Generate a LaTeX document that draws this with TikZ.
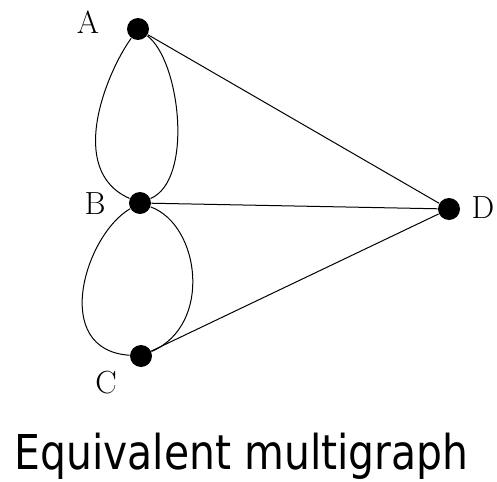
\documentclass[tikz,border=0pt]{standalone}
\usepackage{fontspec}
\newfontfamily\capfont{DejaVu Sans}
\tikzset{every picture/.style={line width=0.75pt}}
\tikzset{vertex/.style={circle,fill=black,inner sep=0pt,minimum size=16.5pt}}
\tikzset{vlabel/.style={inner sep=0.75pt,font=\fontsize{24}{28}\selectfont}}

\begin{document}
\begin{tikzpicture}[x=0.75pt,y=0.75pt,yscale=-1,xscale=1]
\useasboundingbox (0,0) rectangle (497,482);

%Shape: Circle [vertices]
\node [vertex] (A) at (138,29) {};
\node [vertex] (B) at (140,203) {};
\node [vertex] (C) at (141,356) {};
\node [vertex] (D) at (449,209) {};

%Curve Lines [A-B]
\draw (A) .. controls (108,70) and (65,170) .. (B) ;
\draw (A) .. controls (180,60) and (194,180) .. (B) ;
%Curve Lines [B-C]
\draw (B) .. controls (85,235) and (50,350) .. (C) ;
\draw (B) .. controls (200,225) and (213,325) .. (C) ;
%Straight Lines [to D]
\draw (A) -- (D) ;
\draw (B) -- (D) ;
\draw (C) -- (D) ;

% Text Node
\node [vlabel] (labA) at (88,22) {A};
% Text Node
\node [vlabel] (labB) at (95,204) {B};
% Text Node
\node [vlabel] (labC) at (106,383) {C};
% Text Node
\node [vlabel,anchor=west] (labD) at (470,208) {D};

% Text Node
\node [anchor=base west,inner sep=0pt] (title) at (14,469) {\scalebox{0.852}[1]{\capfont\fontsize{36}{40}\selectfont Equivalent multigraph}};

\end{tikzpicture}
\end{document}
